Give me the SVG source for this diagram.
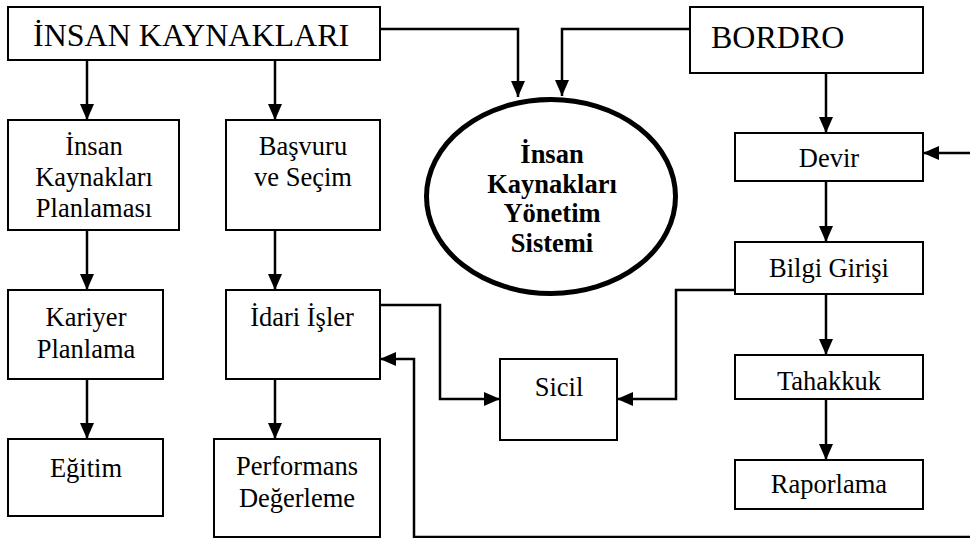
<svg xmlns="http://www.w3.org/2000/svg" width="970" height="538" viewBox="0 0 970 538">
  <defs>
    <marker id="arrow" viewBox="0 0 16 14" refX="16" refY="7" markerWidth="16" markerHeight="14" markerUnits="userSpaceOnUse" orient="auto">
      <path d="M0,0 L16,7 L0,14 Z" fill="#000"/>
    </marker>
    <style>
      .box { fill: #fff; stroke: #000; stroke-width: 2; }
      .lbl { font-family: "Liberation Serif", "Times New Roman", serif; font-size: 26.5px; fill: #000; text-anchor: middle; }
      .big { font-family: "Liberation Serif", "Times New Roman", serif; font-size: 32px; fill: #000; }
      .bold { font-family: "Liberation Serif", "Times New Roman", serif; font-size: 26.5px; font-weight: bold; fill: #000; text-anchor: middle; }
      .wire { fill: none; stroke: #000; stroke-width: 2.5; marker-end: url(#arrow); }
      .plain { fill: none; stroke: #000; stroke-width: 2.5; }
    </style>
  </defs>
  <rect width="970" height="538" fill="#fff"/>

  <!-- connectors -->
  <g id="connectors">
    <path class="wire" d="M87,60 V120"/>
    <path class="wire" d="M275,60 V120"/>
    <path class="wire" d="M87,230 V290"/>
    <path class="wire" d="M275,230 V290"/>
    <path class="wire" d="M87,379 V439"/>
    <path class="wire" d="M275,379 V439"/>
    <path class="wire" d="M380,29 H518 V97"/>
    <path class="wire" d="M690,29 H562 V96"/>
    <path class="wire" d="M826,73 V133"/>
    <path class="wire" d="M826,181 V242"/>
    <path class="wire" d="M826,294 V355"/>
    <path class="wire" d="M826,399 V460"/>
    <path class="wire" d="M972,153 H923"/>
    <path class="wire" d="M735,290 H676 V399 H617"/>
    <path class="wire" d="M380,305 H440 V399 H500"/>
    <path class="wire" d="M972,537 H414 V359 H380"/>
  </g>

  <g id="insan-kaynaklari">
    <rect class="box" x="8" y="7" width="372" height="53"/>
    <text class="big" x="33" y="46">İNSAN KAYNAKLARI</text>
  </g>

  <g id="bordro">
    <rect class="box" x="690" y="7" width="233" height="66"/>
    <text class="big" x="711" y="48">BORDRO</text>
  </g>

  <g id="ik-yonetim-sistemi">
    <ellipse cx="551" cy="196.5" rx="124.5" ry="97" fill="#fff" stroke="#000" stroke-width="5"/>
    <text class="bold" x="552" y="163">İnsan</text>
    <text class="bold" x="552" y="192.5">Kaynakları</text>
    <text class="bold" x="552" y="222">Yönetim</text>
    <text class="bold" x="552" y="251.5">Sistemi</text>
  </g>

  <g id="ik-planlamasi">
    <rect class="box" x="8" y="120" width="171" height="110"/>
    <text class="lbl" x="94" y="155">İnsan</text>
    <text class="lbl" x="94" y="186">Kaynakları</text>
    <text class="lbl" x="94" y="217">Planlaması</text>
  </g>

  <g id="basvuru-secim">
    <rect class="box" x="226" y="120" width="154" height="110"/>
    <text class="lbl" x="303" y="155">Başvuru</text>
    <text class="lbl" x="303" y="186">ve Seçim</text>
  </g>

  <g id="kariyer-planlama">
    <rect class="box" x="8" y="290" width="155" height="89"/>
    <text class="lbl" x="86" y="326">Kariyer</text>
    <text class="lbl" x="86" y="358">Planlama</text>
  </g>

  <g id="idari-isler">
    <rect class="box" x="226" y="290" width="154" height="89"/>
    <text class="lbl" x="302" y="326">İdari İşler</text>
  </g>

  <g id="egitim">
    <rect class="box" x="8" y="439" width="155" height="77"/>
    <text class="lbl" x="86" y="477">Eğitim</text>
  </g>

  <g id="performans-degerleme">
    <rect class="box" x="214" y="439" width="166" height="98"/>
    <text class="lbl" x="297" y="475">Performans</text>
    <text class="lbl" x="297" y="507">Değerleme</text>
  </g>

  <g id="sicil">
    <rect class="box" x="500" y="359" width="117" height="81"/>
    <text class="lbl" x="559" y="396">Sicil</text>
  </g>

  <g id="devir">
    <rect class="box" x="735" y="133" width="188" height="48"/>
    <text class="lbl" x="829" y="167">Devir</text>
  </g>

  <g id="bilgi-girisi">
    <rect class="box" x="735" y="242" width="188" height="52"/>
    <text class="lbl" x="829" y="277">Bilgi Girişi</text>
  </g>

  <g id="tahakkuk">
    <rect class="box" x="735" y="355" width="188" height="44"/>
    <text class="lbl" x="829" y="390">Tahakkuk</text>
  </g>

  <g id="raporlama">
    <rect class="box" x="735" y="460" width="188" height="49"/>
    <text class="lbl" x="829" y="493">Raporlama</text>
  </g>
</svg>
